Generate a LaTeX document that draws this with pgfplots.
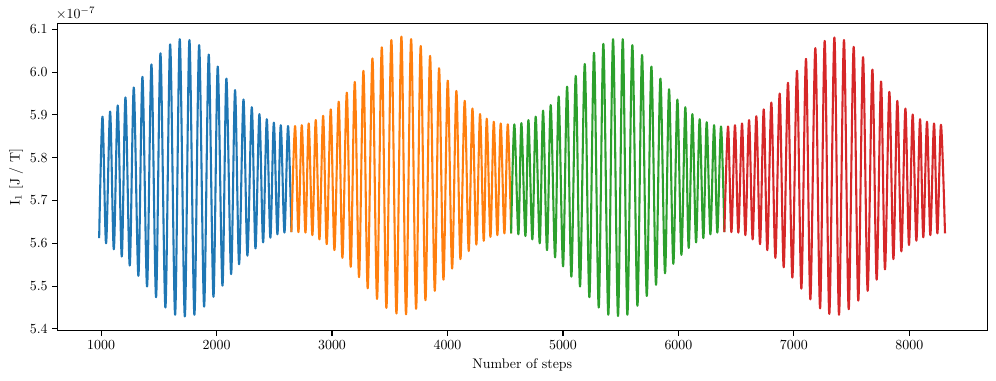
\documentclass[border=0pt]{standalone}
\usepackage{pgfplots}
\pgfplotsset{compat=1.18}
\definecolor{tabblue}{HTML}{1F77B4}
\definecolor{taborange}{HTML}{FF7F0E}
\definecolor{tabgreen}{HTML}{2CA02C}
\definecolor{tabred}{HTML}{D62728}
\begin{document}
\begin{tikzpicture}
\begin{axis}[
  scale only axis, width=669.6pt, height=221.5pt,
  xmin=621, xmax=8675, ymin=5.3952, ymax=6.114,
  xtick={1000,2000,3000,4000,5000,6000,7000,8000},
  ytick={5.4,5.5,5.6,5.7,5.8,5.9,6.0,6.1},
  xticklabel style={/pgf/number format/set thousands separator={}},
  yticklabel style={/pgf/number format/.cd, fixed, fixed zerofill, precision=1},
  tick align=outside, xtick pos=bottom, ytick pos=left,
  major tick length=3.5pt,
  every tick/.style={black, line width=0.8pt},
  axis line style={line width=0.8pt},
  xlabel={Number of steps}, ylabel={I$_1$ [J / T]},
  ylabel shift=-2pt,
  clip=false,
]
\node[anchor=south west, inner sep=0pt] at (rel axis cs:-0.002,1.01) {$\times10^{-7}$};
\addplot[tabblue, line width=1.5pt, smooth, line join=round] coordinates {
(983,5.612)(1012,5.896)(1043,5.600)(1078,5.908)(1110,5.586)(1144,5.922)(1179,5.569)(1211,5.941)(1248,5.548)(1283,5.964)(1323,5.524)(1358,5.989)(1398,5.499)(1436,6.018)(1476,5.474)(1514,6.044)(1557,5.450)(1598,6.065)(1641,5.433)(1681,6.077)(1725,5.429)(1765,6.075)(1808,5.433)(1849,6.063)(1892,5.452)(1932,6.041)(1973,5.475)(2010,6.013)(2051,5.501)(2085,5.985)(2126,5.528)(2160,5.958)(2195,5.551)(2233,5.936)(2267,5.571)(2305,5.918)(2337,5.588)(2371,5.902)(2403,5.602)(2435,5.890)(2466,5.613)(2496,5.882)(2527,5.621)(2556,5.876)(2588,5.625)(2619,5.874)(2648,5.626)
};
\addplot[taborange, line width=1.5pt, smooth, line join=round] coordinates {
(2648,5.626)(2680,5.874)(2709,5.626)(2738,5.876)(2770,5.625)(2798,5.880)(2830,5.619)(2859,5.888)(2891,5.609)(2923,5.898)(2954,5.598)(2989,5.913)(3021,5.584)(3058,5.931)(3090,5.566)(3128,5.952)(3162,5.545)(3197,5.977)(3234,5.521)(3272,6.003)(3309,5.495)(3350,6.032)(3390,5.470)(3431,6.058)(3471,5.449)(3514,6.075)(3558,5.436)(3601,6.083)(3641,5.434)(3685,6.077)(3728,5.447)(3768,6.061)(3809,5.467)(3849,6.038)(3890,5.489)(3927,6.009)(3965,5.515)(4002,5.980)(4040,5.541)(4077,5.956)(4112,5.563)(4149,5.933)(4184,5.582)(4216,5.915)(4250,5.597)(4282,5.902)(4314,5.606)(4340,5.891)(4372,5.615)(4401,5.884)(4432,5.619)(4461,5.880)(4493,5.623)(4522,5.878)(4551,5.623)
};
\addplot[tabgreen, line width=1.5pt, smooth, line join=round] coordinates {
(4551,5.623)(4579,5.878)(4614,5.621)(4640,5.881)(4675,5.617)(4701,5.888)(4735,5.609)(4764,5.896)(4799,5.600)(4828,5.910)(4862,5.584)(4894,5.923)(4932,5.567)(4963,5.943)(5001,5.546)(5036,5.966)(5073,5.522)(5111,5.991)(5148,5.499)(5189,6.019)(5229,5.474)(5269,6.045)(5310,5.450)(5350,6.066)(5393,5.433)(5434,6.077)(5477,5.430)(5518,6.077)(5558,5.433)(5601,6.063)(5645,5.454)(5685,6.040)(5726,5.477)(5766,6.013)(5806,5.503)(5844,5.985)(5884,5.530)(5919,5.960)(5956,5.552)(5991,5.936)(6026,5.573)(6060,5.918)(6089,5.589)(6121,5.902)(6153,5.602)(6184,5.890)(6216,5.612)(6245,5.883)(6277,5.621)(6309,5.876)(6337,5.625)(6369,5.873)(6398,5.626)
};
\addplot[tabred, line width=1.5pt, smooth, line join=round] coordinates {
(6398,5.626)(6430,5.873)(6459,5.626)(6490,5.876)(6519,5.625)(6551,5.880)(6580,5.619)(6612,5.888)(6643,5.609)(6675,5.897)(6707,5.598)(6739,5.913)(6770,5.584)(6805,5.929)(6840,5.566)(6877,5.950)(6912,5.544)(6949,5.975)(6987,5.520)(7027,6.003)(7065,5.494)(7105,6.031)(7143,5.469)(7186,6.056)(7227,5.448)(7267,6.073)(7307,5.435)(7351,6.081)(7391,5.433)(7434,6.075)(7475,5.446)(7518,6.059)(7558,5.466)(7599,6.035)(7639,5.489)(7680,6.006)(7717,5.515)(7755,5.978)(7789,5.539)(7827,5.954)(7862,5.563)(7896,5.933)(7931,5.581)(7966,5.915)(7997,5.596)(8029,5.901)(8061,5.606)(8093,5.890)(8121,5.614)(8153,5.884)(8182,5.619)(8214,5.880)(8243,5.623)(8274,5.877)(8309,5.623)
};
\end{axis}
\pgfresetboundingbox
\path (-41.3pt,-36pt) rectangle (675.9pt,238.3pt);
\end{tikzpicture}
\end{document}
